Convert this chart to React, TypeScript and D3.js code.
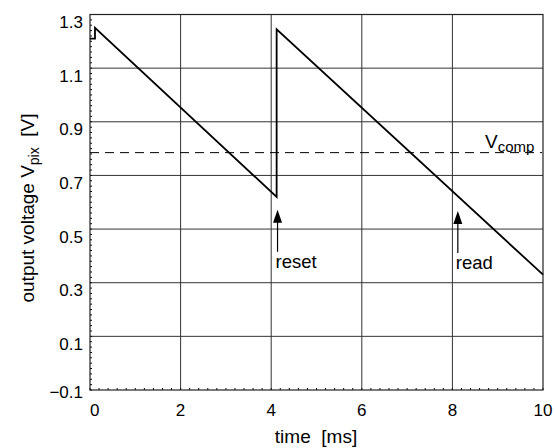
import React, { useEffect, useRef } from 'react';
import * as d3 from 'd3';

// pixel output voltage trace (time in ms, voltage in V)
const timeMs = [0, 0.11, 0.11, 4.12, 4.12, 10];
const voltage = [1.21, 1.21, 1.25, 0.62, 1.245, 0.33];

const xTicks = [0, 2, 4, 6, 8, 10];
const yTicks = [-0.1, 0.1, 0.3, 0.5, 0.7, 0.9, 1.1, 1.3];
const vComp = 0.785;

const markerLabels = ['reset', 'read'];
const markerTimes = [4.14, 8.12];
const markerVolts = [0.572, 0.567];

const W = 555;
const H = 448;

const App: React.FC = () => {
  const svgRef = useRef<SVGSVGElement>(null);

  useEffect(() => {
    document.body.style.margin = '0';
    if (!svgRef.current) return;
    d3.select(svgRef.current).selectAll('*').remove();

    const svg = d3.select(svgRef.current)
      .attr('width', W)
      .attr('height', H)
      .style('font-family', '"Liberation Sans", Arial, sans-serif');

    const x = d3.scaleLinear().domain([0, 10]).range([90, 543]);
    const y = d3.scaleLinear().domain([-0.1, 1.3]).range([390, 14.5]);

    const [x0, x1] = x.range();
    const [y0, y1] = y.range();

    svg.append('rect').attr('width', W).attr('height', H).attr('fill', '#fff');

    // grid
    svg.append('g').selectAll('line')
      .data(yTicks.slice(1, -1))
      .enter().append('line')
      .attr('x1', x0).attr('x2', x1)
      .attr('y1', d => y(d)).attr('y2', d => y(d))
      .attr('stroke', '#333').attr('stroke-width', 1);
    svg.append('g').selectAll('line')
      .data(xTicks.slice(1, -1))
      .enter().append('line')
      .attr('y1', y0).attr('y2', y1)
      .attr('x1', d => x(d)).attr('x2', d => x(d))
      .attr('stroke', '#333').attr('stroke-width', 1);

    // minor ticks
    const yMinor = d3.range(-0.1, 1.3001, 0.02);
    svg.append('g').selectAll('line')
      .data(yMinor)
      .enter().append('line')
      .attr('x1', x0).attr('x2', x0 + 2)
      .attr('y1', d => y(d)).attr('y2', d => y(d))
      .attr('stroke', '#000').attr('stroke-width', 1);
    const xMinor = d3.range(0, 10.001, 0.2);
    svg.append('g').selectAll('line')
      .data(xMinor)
      .enter().append('line')
      .attr('x1', d => x(d)).attr('x2', d => x(d))
      .attr('y1', y0).attr('y2', y0 - 2)
      .attr('stroke', '#000').attr('stroke-width', 1);

    // frame
    svg.append('rect')
      .attr('x', x0).attr('y', y1)
      .attr('width', x1 - x0).attr('height', y0 - y1)
      .attr('fill', 'none').attr('stroke', '#222').attr('stroke-width', 1.2);

    // tick labels (values sit just below their grid line)
    svg.append('g').selectAll('text')
      .data(yTicks)
      .enter().append('text')
      .attr('x', x0 - 7)
      .attr('y', d => y(d) + (d === yTicks[0] ? 8 : 13.5))
      .attr('text-anchor', 'end')
      .attr('font-size', 17)
      .text(d => d3.format('.1f')(d).replace('-', '\u2212'));
    svg.append('g').selectAll('text')
      .data(xTicks)
      .enter().append('text')
      .attr('x', d => (d === 0 ? x0 : x(d)))
      .attr('y', 416)
      .attr('text-anchor', d => (d === 0 ? 'start' : 'middle'))
      .attr('font-size', 17)
      .text(d => String(d));

    // axis titles
    svg.append('text')
      .attr('x', 316).attr('y', 443)
      .attr('text-anchor', 'middle').attr('font-size', 19)
      .attr('xml:space', 'preserve')
      .text('time  [ms]');
    const yl = svg.append('text')
      .attr('transform', 'translate(34,208) rotate(-90)')
      .attr('text-anchor', 'middle').attr('font-size', 19)
      .attr('xml:space', 'preserve');
    yl.append('tspan').text('output voltage V');
    yl.append('tspan').attr('font-size', 14).attr('dy', 5).text('pix');
    yl.append('tspan').attr('dy', -5).text('  [V]');

    // comparator threshold
    svg.append('line')
      .attr('x1', x0).attr('x2', x(9.98))
      .attr('y1', y(vComp)).attr('y2', y(vComp))
      .attr('stroke', '#000').attr('stroke-width', 1)
      .attr('stroke-dasharray', '9,6');
    const vc = svg.append('text')
      .attr('x', 485).attr('y', y(vComp) - 5)
      .attr('font-size', 19);
    vc.append('tspan').text('V');
    vc.append('tspan').attr('font-size', 15).attr('dy', 4).text('comp');

    // trace
    const pts: [number, number][] = timeMs.map((t, i) => [t, voltage[i]]);
    const line = d3.line<[number, number]>()
      .x(d => x(d[0]))
      .y(d => y(d[1]));
    svg.append('path')
      .datum(pts)
      .attr('d', line)
      .attr('fill', 'none')
      .attr('stroke', '#000')
      .attr('stroke-width', 1.8)
      .attr('stroke-linejoin', 'miter');

    // arrows
    markerLabels.forEach((lab, i) => {
      const ax = x(markerTimes[i]);
      const ay = y(markerVolts[i]);
      svg.append('path')
        .attr('d', `M${ax},${ay} L${ax - 4.5},${ay + 13} L${ax + 4.5},${ay + 13} Z`)
        .attr('fill', '#000');
      svg.append('line')
        .attr('x1', ax).attr('x2', ax)
        .attr('y1', ay + 12).attr('y2', ay + 42)
        .attr('stroke', '#000').attr('stroke-width', 1.2);
      svg.append('text')
        .attr('x', ax - 2).attr('y', ay + 58)
        .attr('font-size', 18.5)
        .text(lab);
    });
  }, []);

  return <svg ref={svgRef} style={{ display: 'block' }} />;
};

export default App;
